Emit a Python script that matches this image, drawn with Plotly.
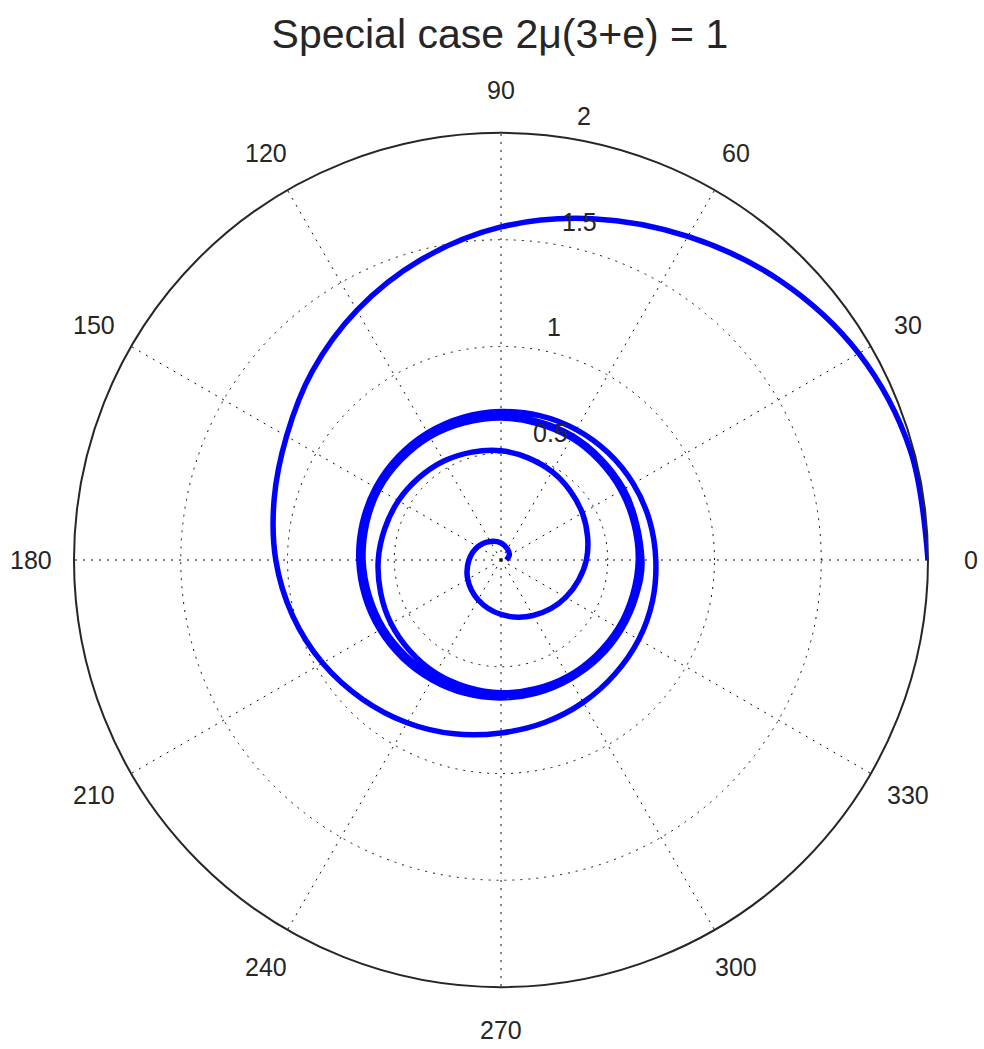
import math
import plotly.graph_objects as go

# ---- chart content -------------------------------------------------------
title_text = "Special case 2μ(3+e) = 1"
angle_ticks = [0, 30, 60, 90, 120, 150, 180, 210, 240, 270, 300, 330]
radial_ticks = [0.5, 1, 1.5, 2]
r_max = 2

# trajectory starting at r = 2 on the 0° ray, winding in towards the limit cycle
# (15° sampling for the first two turns, 30° afterwards)
outer_theta = list(range(0, 720, 15)) + list(range(720, 1441, 30))
outer_r = [
    # 0° .. 345°
    2.000, 1.985, 1.935, 1.850, 1.750, 1.655, 1.560, 1.455, 1.350, 1.250, 1.160, 1.100,
    1.055, 1.010, 0.965, 0.920, 0.880, 0.843, 0.810, 0.788, 0.770, 0.755, 0.745, 0.735,
    # 360° .. 705°
    0.725, 0.720, 0.715, 0.710, 0.705, 0.700, 0.695, 0.692, 0.688, 0.683, 0.678, 0.672,
    0.666, 0.660, 0.655, 0.651, 0.648, 0.647, 0.646, 0.645, 0.645, 0.648, 0.651, 0.655,
    # 720° .. 1440°
    0.660, 0.664, 0.671, 0.674, 0.674, 0.666, 0.652, 0.642, 0.636, 0.636, 0.638, 0.646,
    0.656, 0.660, 0.668, 0.672, 0.672, 0.665, 0.650, 0.640, 0.635, 0.635, 0.637, 0.645,
    0.655,
]

# trajectory starting near the origin, winding out towards the limit cycle
inner_theta = list(range(0, 1441, 30))
inner_r = [
    0.025, 0.045, 0.060, 0.080, 0.100, 0.125, 0.150, 0.180, 0.215, 0.255, 0.300, 0.350,
    0.400, 0.440, 0.478, 0.512, 0.535, 0.555, 0.575, 0.595, 0.612, 0.622, 0.628, 0.635,
    0.643, 0.650, 0.660, 0.665, 0.666, 0.660, 0.646, 0.636, 0.631, 0.632, 0.635, 0.643,
    0.653, 0.658, 0.666, 0.671, 0.671, 0.664, 0.649, 0.639, 0.634, 0.634, 0.637, 0.645,
    0.655,
]

# ---- geometry / style ----------------------------------------------------
W, H = 984, 1049
CX, CY, RAD = 501, 560, 427          # polar centre and radius in pixels
TEXT = "#262626"
FONT = "Liberation Sans, Arial, Helvetica, sans-serif"
BLUE = "#0000ff"
GRID = "#111111"

dom_x = [(CX - RAD) / W, (CX + RAD) / W]
dom_y = [(H - CY - RAD) / H, (H - CY + RAD) / H]


def to_paper(r, deg):
    """Paper coordinates of the polar point (r, deg)."""
    rp = RAD * r / r_max
    a = math.radians(deg)
    return (CX + rp * math.cos(a)) / W, 1 - (CY - rp * math.sin(a)) / H


fig = go.Figure()

for th, rr in ((outer_theta, outer_r), (inner_theta, inner_r)):
    fig.add_trace(go.Scatterpolar(
        r=rr, theta=th, mode="lines",
        line=dict(color=BLUE, width=5.5, shape="spline", smoothing=1),
        hoverinfo="skip", showlegend=False,
    ))

annotations = []

# angle labels just outside the outer ring
for a in angle_ticks:
    x, y = to_paper(r_max * 1.1, a)
    annotations.append(dict(
        x=x, y=y, xref="paper", yref="paper", text=str(a), showarrow=False,
        xanchor="center", yanchor="middle",
        font=dict(size=25, color=TEXT, family=FONT),
    ))

# radius labels along the 82° ray
for t in radial_ticks:
    x, y = to_paper(t + 0.025, 82)
    annotations.append(dict(
        x=x, y=y, xref="paper", yref="paper",
        text=f"{t:g}", showarrow=False, xanchor="left", yanchor="bottom",
        xshift=14, yshift=0,
        font=dict(size=25, color=TEXT, family=FONT),
    ))

grid_dash = "2px,6px"
fig.update_layout(
    width=W, height=H,
    margin=dict(l=0, r=0, t=0, b=0),
    paper_bgcolor="white",
    plot_bgcolor="white",
    title=dict(
        text=title_text, x=0.508, xanchor="center", xref="paper",
        y=1 - 34 / H, yanchor="middle", yref="paper",
        font=dict(size=41, color=TEXT, family=FONT),
    ),
    annotations=annotations,
    polar=dict(
        domain=dict(x=dom_x, y=dom_y),
        bgcolor="white",
        radialaxis=dict(
            range=[0, r_max], tickvals=radial_ticks[:-1],
            showticklabels=False, ticks="", showline=False,
            showgrid=True, gridcolor=GRID, gridwidth=1.2, griddash=grid_dash,
        ),
        angularaxis=dict(
            tickvals=angle_ticks, showticklabels=False, ticks="",
            direction="counterclockwise", rotation=0,
            showline=True, linecolor=TEXT, linewidth=2,
            showgrid=True, gridcolor=GRID, gridwidth=1.2, griddash=grid_dash,
        ),
    ),
)

fig.write_html("out.html")
